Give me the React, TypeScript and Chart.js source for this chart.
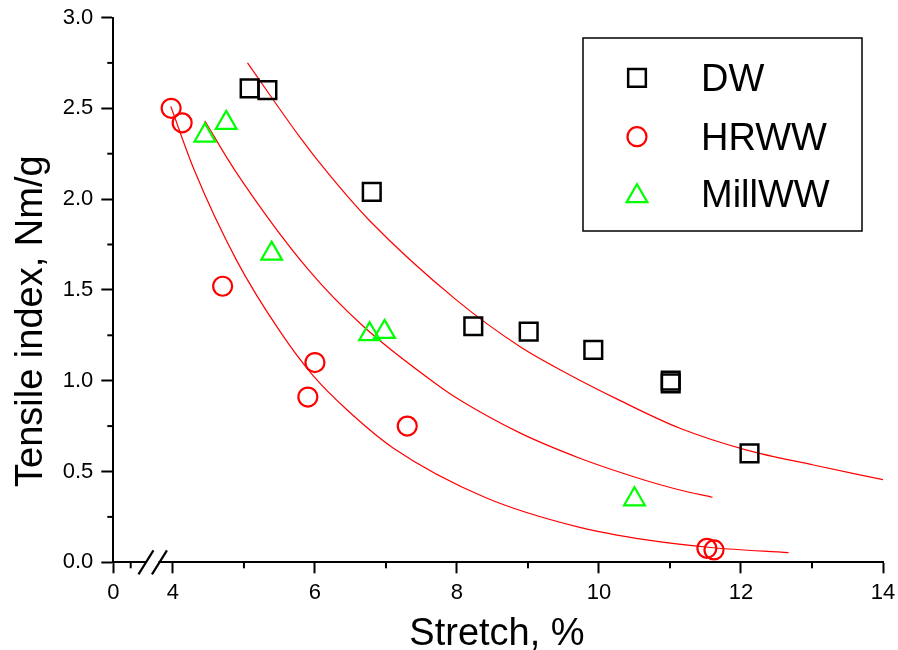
import React, { useEffect, useRef } from 'react';
import { Chart, registerables } from 'chart.js';

Chart.register(...registerables);

const FONT = "'Liberation Sans', Arial, Helvetica, sans-serif";

// ---- axis ticks (x axis is broken: the short segment left of the break shows "0") ----
const xTickValues = [3.16, 4, 6, 8, 10, 12, 14];
const xTickLabels = ['0', '4', '6', '8', '10', '12', '14'];
const xMinorTicks = [3.405, 5, 7, 9, 11, 13];
const xBreakAt = [3.62, 3.81];
const yMinorTicks = [0.25, 0.75, 1.25, 1.75, 2.25, 2.75];

const xTitle = 'Stretch, %';
const yTitle = 'Tensile index, Nm/g';

// ---- measured points ----
const seriesNames = ['DW', 'HRWW', 'MillWW'];

const dwX = [5.08, 5.33, 6.8, 8.23, 9.01, 9.92, 11.01, 11.01, 12.12];
const dwY = [2.61, 2.6, 2.04, 1.3, 1.27, 1.17, 1.0, 0.985, 0.6];

const hrwwX = [3.975, 4.13, 4.7, 5.9, 6.0, 7.3, 11.52, 11.62];
const hrwwY = [2.5, 2.42, 1.52, 0.91, 1.1, 0.75, 0.077, 0.068];

const millX = [4.45, 4.75, 5.39, 6.77, 6.98, 10.5];
const millY = [2.35, 2.42, 1.7, 1.256, 1.269, 0.347];

// ---- fitted curves ----
const dwFitX = [5.05, 5.79, 6.21, 6.76, 7.99, 8.89, 9.55, 10.25, 11.14, 12.08, 13.02, 14.0];
const dwFitY = [2.75, 2.34, 2.13, 1.885, 1.445, 1.187, 1.04, 0.9, 0.738, 0.618, 0.536, 0.455];

const millFitX = [4.45, 4.87, 5.91, 6.68, 7.76, 8.04, 8.9, 9.73, 10.2, 10.67, 11.14, 11.6];
const millFitY = [2.43, 2.16, 1.61, 1.3, 0.967, 0.894, 0.71, 0.573, 0.508, 0.449, 0.398, 0.358];

const hrwwFitX = [3.97, 4.3, 4.9, 5.51, 5.98, 6.45, 7.1, 8.4, 9.73, 10.67, 11.61, 12.67];
const hrwwFitY = [2.51, 2.16, 1.66, 1.27, 1.025, 0.84, 0.63, 0.357, 0.192, 0.123, 0.08, 0.053];

const toPts = (xs: number[], ys: number[]) => xs.map((x, i) => ({ x, y: ys[i] }));

// legend layout (pixels)
const LEGEND = {
  left: 583,
  top: 38,
  right: 862,
  bottom: 231,
  markerX: 637,
  markerY: [77.8, 136.7, 196.2],
  textX: 701,
  baseline: [91, 149.5, 207],
};

function drawMarker(ctx: CanvasRenderingContext2D, style: string, x: number, y: number, r: number) {
  ctx.beginPath();
  if (style === 'rect') {
    const s = Math.SQRT1_2 * r;
    ctx.rect(x - s, y - s, 2 * s, 2 * s);
  } else if (style === 'triangle') {
    for (let k = 0; k < 3; k++) {
      const a = (k * 2 * Math.PI) / 3;
      const px = x + Math.sin(a) * r;
      const py = y - Math.cos(a) * r;
      if (k === 0) ctx.moveTo(px, py);
      else ctx.lineTo(px, py);
    }
    ctx.closePath();
  } else {
    ctx.arc(x, y, r, 0, Math.PI * 2);
  }
  ctx.stroke();
}

const decorPlugin = {
  id: 'decor',
  afterDraw(chart: any) {
    const { ctx, chartArea } = chart;
    const xs = chart.scales.x;
    const ys = chart.scales.y;
    ctx.save();
    ctx.strokeStyle = '#000';
    ctx.lineWidth = 2;
    // minor ticks
    for (const v of xMinorTicks) {
      const px = xs.getPixelForValue(v);
      ctx.beginPath();
      ctx.moveTo(px, chartArea.bottom);
      ctx.lineTo(px, chartArea.bottom + 6);
      ctx.stroke();
    }
    for (const v of yMinorTicks) {
      const py = ys.getPixelForValue(v);
      ctx.beginPath();
      ctx.moveTo(chartArea.left - 6, py);
      ctx.lineTo(chartArea.left, py);
      ctx.stroke();
    }
    // axis break
    const b1 = xs.getPixelForValue(xBreakAt[0]);
    const b2 = xs.getPixelForValue(xBreakAt[1]);
    const yb = chartArea.bottom;
    ctx.fillStyle = '#fff';
    ctx.fillRect(b1 + 1, yb - 2, b2 - b1 - 2, 4);
    ctx.lineWidth = 2.2;
    for (const b of [b1, b2]) {
      ctx.beginPath();
      ctx.moveTo(b - 7.5, yb + 12);
      ctx.lineTo(b + 7.5, yb - 12);
      ctx.stroke();
    }
    // axis titles
    ctx.fillStyle = '#000';
    ctx.font = `38px ${FONT}`;
    ctx.textAlign = 'center';
    ctx.textBaseline = 'alphabetic';
    ctx.fillText(xTitle, 497, 645);
    ctx.save();
    ctx.translate(42, 487);
    ctx.rotate(-Math.PI / 2);
    ctx.textAlign = 'left';
    ctx.fillText(yTitle, 0, 0);
    ctx.restore();

    // legend
    ctx.lineWidth = 1.5;
    ctx.strokeStyle = '#000';
    ctx.strokeRect(LEGEND.left, LEGEND.top, LEGEND.right - LEGEND.left, LEGEND.bottom - LEGEND.top);
    const dsets = chart.data.datasets.slice(0, 3);
    dsets.forEach((ds: any, i: number) => {
      ctx.strokeStyle = ds.borderColor;
      ctx.lineWidth = ds.pointBorderWidth;
      drawMarker(ctx, ds.pointStyle, LEGEND.markerX, LEGEND.markerY[i], ds.pointRadius);
      ctx.fillStyle = '#000';
      ctx.font = `38px ${FONT}`;
      ctx.textAlign = 'left';
      ctx.textBaseline = 'alphabetic';
      ctx.fillText(ds.label, LEGEND.textX, LEGEND.baseline[i]);
    });
    ctx.restore();
  },
};

export default function App() {
  const canvasRef = useRef<HTMLCanvasElement | null>(null);

  useEffect(() => {
    const canvas = canvasRef.current;
    if (!canvas) return;
    const fitLine = (label: string, xs: number[], ys: number[]) => ({
      label,
      data: toPts(xs, ys),
      showLine: true,
      pointRadius: 0,
      pointHoverRadius: 0,
      borderColor: '#ff0000',
      borderWidth: 1.2,
      backgroundColor: 'rgba(0,0,0,0)',
      cubicInterpolationMode: 'monotone',
      fill: false,
    });
    const chart = new Chart(canvas, {
      type: 'scatter',
      data: {
        datasets: [
          {
            label: seriesNames[0],
            data: toPts(dwX, dwY),
            pointStyle: 'rect',
            pointRadius: 12.5,
            borderColor: '#000000',
            backgroundColor: 'rgba(0,0,0,0)',
            pointBorderWidth: 2.5,
            borderWidth: 2.5,
            showLine: false,
          },
          {
            label: seriesNames[1],
            data: toPts(hrwwX, hrwwY),
            pointStyle: 'circle',
            pointRadius: 9.5,
            borderColor: '#ff0000',
            backgroundColor: 'rgba(0,0,0,0)',
            pointBorderWidth: 2.2,
            borderWidth: 2.2,
            showLine: false,
          },
          {
            label: seriesNames[2],
            data: toPts(millX, millY),
            pointStyle: 'triangle',
            pointRadius: 12,
            borderColor: '#00ff00',
            backgroundColor: 'rgba(0,0,0,0)',
            pointBorderWidth: 2.2,
            borderWidth: 2.2,
            showLine: false,
          },
          fitLine('DW fit', dwFitX, dwFitY),
          fitLine('HRWW fit', hrwwFitX, hrwwFitY),
          fitLine('MillWW fit', millFitX, millFitY),
        ] as any,
      },
      options: {
        responsive: false,
        animation: false,
        events: [],
        layout: { padding: { top: 17.5, right: 14, bottom: 0, left: 0 } },
        plugins: {
          legend: { display: false },
          tooltip: { enabled: false },
        },
        scales: {
          x: {
            type: 'linear',
            min: xTickValues[0],
            max: xTickValues[xTickValues.length - 1],
            afterBuildTicks: (s: any) => {
              s.ticks = xTickValues.map((v) => ({ value: v }));
            },
            afterFit: (s: any) => {
              s.height = 87.7;
              s.paddingLeft = 0;
              s.paddingRight = 0;
            },
            ticks: {
              autoSkip: false,
              maxRotation: 0,
              padding: 6,
              color: '#000',
              font: { size: 22, family: FONT },
              callback: (_v: any, i: number) => xTickLabels[i],
            },
            grid: {
              display: true,
              drawOnChartArea: false,
              drawTicks: true,
              tickLength: 11,
              tickWidth: 2,
              tickColor: '#000',
            },
            border: { display: true, color: '#000', width: 2 },
          },
          y: {
            type: 'linear',
            min: 0,
            max: 3,
            afterFit: (s: any) => {
              s.width = 113.3;
              s.paddingTop = 0;
              s.paddingBottom = 0;
            },
            ticks: {
              stepSize: 0.5,
              padding: 8,
              color: '#000',
              font: { size: 22, family: FONT },
              callback: (v: any) => Number(v).toFixed(1),
            },
            grid: {
              display: true,
              drawOnChartArea: false,
              drawTicks: true,
              tickLength: 12,
              tickWidth: 2,
              tickColor: '#000',
            },
            border: { display: true, color: '#000', width: 2 },
          },
        },
      } as any,
      plugins: [decorPlugin],
    });
    return () => chart.destroy();
  }, []);

  return (
    <div style={{ position: 'absolute', left: 0, top: 0, width: 898, height: 650, background: '#fff' }}>
      <canvas ref={canvasRef} width={898} height={650} style={{ display: 'block' }} />
    </div>
  );
}
